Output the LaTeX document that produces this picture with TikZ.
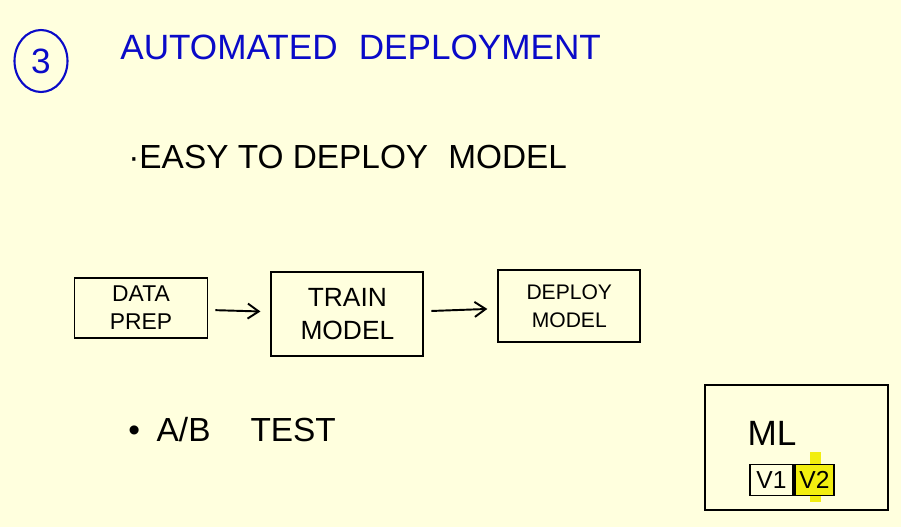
\documentclass[tikz,border=0pt]{standalone}
\usepackage{fontspec}
\setmainfont{Liberation Sans}
\usetikzlibrary{shapes.geometric, arrows.meta, positioning}
\definecolor{paper}{HTML}{FFFFDE}
\definecolor{ink}{HTML}{0A0AC8}
\definecolor{marker}{HTML}{F2EE10}

\begin{document}
\begin{tikzpicture}[
    x=0.02cm, y=-0.02cm,
    node distance=1.2cm,
    heading/.style={font=\fontsize{20}{24}\selectfont, text=ink, anchor=west, inner sep=0pt},
    point/.style={font=\fontsize{19}{23}\selectfont, anchor=west, inner sep=0pt},
    stagebox/.style={rectangle, draw, line width=1.1pt, align=center},
    arrow/.style={-{Straight Barb[length=2.2mm, width=3mm]}, line width=1.1pt, shorten <=0.14cm, shorten >=0.2cm}
]

% Paper
\useasboundingbox[fill=paper] (0,0) rectangle (901,527);

% Heading
\node[ellipse, draw=ink, line width=1.2pt, minimum width=1.06cm, minimum height=1.24cm, text=ink, font=\fontsize{20}{24}\selectfont] (num) at (41,61) {3};
\node[heading] (title) at (120,47) {AUTOMATED\hspace{0.6em}DEPLOYMENT};

% Point 1
\node[point] (easy) at (128,157) {·EASY TO DEPLOY\hspace{0.6em}MODEL};

% Pipeline
\node[stagebox, minimum width=2.66cm, minimum height=1.2cm, font=\fontsize{13}{16}\selectfont] (prep) at (141,308) {DATA\\PREP};
\node[stagebox, right=1.24cm of prep, yshift=-0.12cm, minimum width=3.04cm, minimum height=1.68cm, font=\fontsize{15}{19}\selectfont] (train) {TRAIN\\MODEL};
\node[stagebox, right=1.46cm of train, yshift=0.16cm, minimum width=2.84cm, minimum height=1.44cm, font=\fontsize{12}{16}\selectfont] (deploy) {DEPLOY\\MODEL};

% Arrows
\draw[arrow] (prep) -- (train);
\draw[arrow] (train) -- (deploy);

% Point 2
\node[point] (abtest) at (128,430) {•\hspace{0.5em}A/B\hspace{1.2em}TEST};

% Server with two versions
\node[stagebox, minimum width=3.66cm, minimum height=2.5cm] (server) at (796.5,447.5) {};
\node[font=\fontsize{20}{24}\selectfont] (ml) at (772,433) {ML};
\node[fill=marker, minimum width=0.22cm, minimum height=1cm, inner sep=0pt] (streak) at (815,477) {};
\node[stagebox, minimum width=0.86cm, minimum height=0.62cm, inner sep=0pt, font=\fontsize{14}{17}\selectfont] (v1) at (771.5,480) {V1};
\node[stagebox, right=0pt of v1, fill=marker, minimum width=0.78cm, minimum height=0.62cm, inner sep=0pt, font=\fontsize{14}{17}\selectfont] (v2) {V2};

\end{tikzpicture}
\end{document}
